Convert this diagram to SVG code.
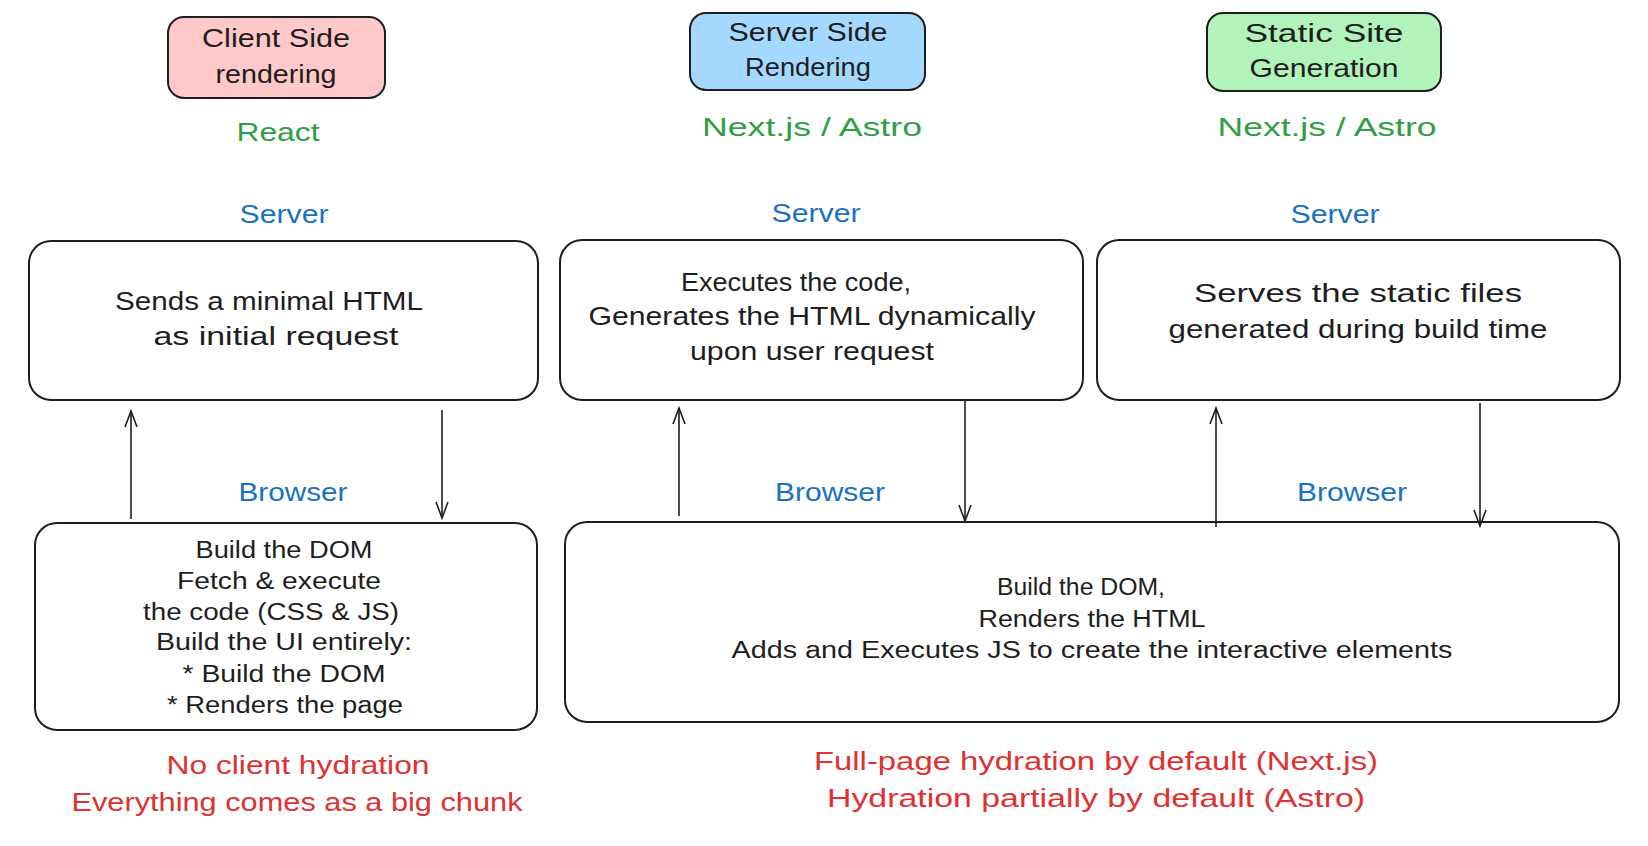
<svg xmlns="http://www.w3.org/2000/svg" width="1648" height="846" viewBox="0 0 1648 846">
<style>
text{font-family:"Liberation Sans","Noto Sans",sans-serif;text-anchor:middle;dominant-baseline:central;fill:#1e1e1e}
.t{font-size:25px}
.b{font-size:23px}
.g{fill:#2f9e44;font-size:26px}
.bl{fill:#1971c2;font-size:25px}
.r{fill:#e03131;font-size:25px}
.box{fill:#ffffff;stroke:#1e1e1e;stroke-width:2}
.ln{stroke:#1e1e1e;stroke-width:1.6;fill:none}
</style>
<defs>
<marker id="ah" viewBox="0 0 20 20" refX="18" refY="10" markerWidth="20" markerHeight="20" markerUnits="userSpaceOnUse" orient="auto">
<path d="M2,4 L18,10 L2,16" fill="none" stroke="#1e1e1e" stroke-width="1.6"/>
</marker>
</defs>
<rect width="1648" height="846" fill="#ffffff"/>

<g id="csr-title">
<rect x="168" y="17" width="217" height="81" rx="16" fill="#ffc9c9" stroke="#1e1e1e" stroke-width="2"/>
<text class="t" x="276" y="38" textLength="148" lengthAdjust="spacingAndGlyphs">Client Side</text>
<text class="t" x="276" y="74" textLength="121" lengthAdjust="spacingAndGlyphs">rendering</text>
</g>
<g id="ssr-title">
<rect x="690" y="13" width="235" height="77" rx="16" fill="#a5d8ff" stroke="#1e1e1e" stroke-width="2"/>
<text class="t" x="808" y="32" textLength="159" lengthAdjust="spacingAndGlyphs">Server Side</text>
<text class="t" x="808" y="67" textLength="126" lengthAdjust="spacingAndGlyphs">Rendering</text>
</g>
<g id="ssg-title">
<rect x="1207" y="13" width="234" height="78" rx="16" fill="#b2f2bb" stroke="#1e1e1e" stroke-width="2"/>
<text class="t" x="1324" y="33" textLength="159" lengthAdjust="spacingAndGlyphs">Static Site</text>
<text class="t" x="1324" y="68" textLength="149" lengthAdjust="spacingAndGlyphs">Generation</text>
</g>

<g id="labels">
<text class="g" x="278" y="132" textLength="83" lengthAdjust="spacingAndGlyphs">React</text>
<text class="g" x="812" y="127" textLength="220" lengthAdjust="spacingAndGlyphs">Next.js / Astro</text>
<text class="g" x="1327" y="127" textLength="219" lengthAdjust="spacingAndGlyphs">Next.js / Astro</text>
<text class="bl" x="284" y="214" textLength="89" lengthAdjust="spacingAndGlyphs">Server</text>
<text class="bl" x="816" y="213" textLength="89" lengthAdjust="spacingAndGlyphs">Server</text>
<text class="bl" x="1335" y="214" textLength="89" lengthAdjust="spacingAndGlyphs">Server</text>
<text class="bl" x="293" y="492" textLength="109" lengthAdjust="spacingAndGlyphs">Browser</text>
<text class="bl" x="830" y="492" textLength="110" lengthAdjust="spacingAndGlyphs">Browser</text>
<text class="bl" x="1352" y="492" textLength="110" lengthAdjust="spacingAndGlyphs">Browser</text>
</g>

<g id="csr-server">
<rect class="box" x="29" y="241" width="509" height="159" rx="22"/>
<text class="t" x="269" y="301" textLength="308" lengthAdjust="spacingAndGlyphs">Sends a minimal HTML</text>
<text class="t" x="276" y="336" textLength="245" lengthAdjust="spacingAndGlyphs">as initial request</text>
</g>
<g id="ssr-server">
<rect class="box" x="560" y="240" width="523" height="160" rx="22"/>
<text class="t" x="796" y="282" textLength="230" lengthAdjust="spacingAndGlyphs">Executes the code,</text>
<text class="t" x="812" y="316" textLength="447" lengthAdjust="spacingAndGlyphs">Generates the HTML dynamically</text>
<text class="t" x="812" y="351" textLength="244" lengthAdjust="spacingAndGlyphs">upon user request</text>
</g>
<g id="ssg-server">
<rect class="box" x="1097" y="240" width="523" height="160" rx="22"/>
<text class="t" x="1358" y="293" textLength="328" lengthAdjust="spacingAndGlyphs">Serves the static files</text>
<text class="t" x="1358" y="329" textLength="379" lengthAdjust="spacingAndGlyphs">generated during build time</text>
</g>

<g id="csr-browser">
<rect class="box" x="35" y="523" width="502" height="207" rx="22"/>
<text class="b" x="284" y="550" textLength="177" lengthAdjust="spacingAndGlyphs">Build the DOM</text>
<text class="b" x="279" y="581" textLength="204" lengthAdjust="spacingAndGlyphs">Fetch &amp; execute</text>
<text class="b" x="271" y="612" textLength="256" lengthAdjust="spacingAndGlyphs">the code (CSS &amp; JS)</text>
<text class="b" x="284" y="642" textLength="256" lengthAdjust="spacingAndGlyphs">Build the UI entirely:</text>
<text class="b" x="284" y="674" textLength="203" lengthAdjust="spacingAndGlyphs">* Build the DOM</text>
<text class="b" x="285" y="705" textLength="236" lengthAdjust="spacingAndGlyphs">* Renders the page</text>
</g>
<g id="shared-browser">
<rect class="box" x="565" y="522" width="1054" height="200" rx="22"/>
<text class="b" x="1081" y="587" textLength="168" lengthAdjust="spacingAndGlyphs">Build the DOM,</text>
<text class="b" x="1092" y="619" textLength="227" lengthAdjust="spacingAndGlyphs">Renders the HTML</text>
<text class="b" x="1092" y="650" textLength="721" lengthAdjust="spacingAndGlyphs">Adds and Executes JS to create the interactive elements</text>
</g>

<g id="notes">
<text class="r" x="298" y="765" textLength="263" lengthAdjust="spacingAndGlyphs">No client hydration</text>
<text class="r" x="297" y="802" textLength="451" lengthAdjust="spacingAndGlyphs">Everything comes as a big chunk</text>
<text class="r" x="1096" y="761" textLength="564" lengthAdjust="spacingAndGlyphs">Full-page hydration by default (Next.js)</text>
<text class="r" x="1096" y="798" textLength="538" lengthAdjust="spacingAndGlyphs">Hydration partially by default (Astro)</text>
</g>

<g id="connectors">
<path class="ln" d="M131,519 L131,411" marker-end="url(#ah)"/>
<path class="ln" d="M442,410 L442,518" marker-end="url(#ah)"/>
<path class="ln" d="M679,516 L679,408" marker-end="url(#ah)"/>
<path class="ln" d="M965,400 L965,521" marker-end="url(#ah)"/>
<path class="ln" d="M1216,527 L1216,408" marker-end="url(#ah)"/>
<path class="ln" d="M1480,403 L1480,526" marker-end="url(#ah)"/>
</g>
</svg>
